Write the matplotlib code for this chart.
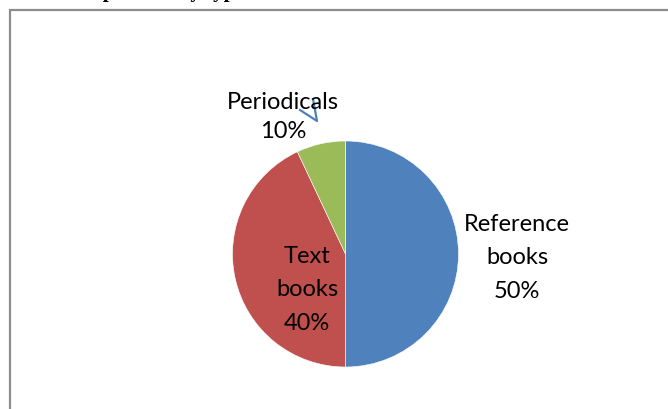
import matplotlib.pyplot as plt
from matplotlib.patches import Rectangle

# pie data (slice sizes, labels as printed)
categories = ['Reference\nbooks', 'Text\nbooks', 'Periodicals']
shares = [50, 43, 7]
pct_text = ['50%', '40%', '10%']
colors = ['#4F81BD', '#C0504D', '#9BBB59']

W, H = 668, 410
fig = plt.figure(figsize=(W / 100, H / 100), dpi=100)
ax = fig.add_axes([0, 0, 1, 1])

ax.pie(shares, colors=colors, startangle=90, counterclock=False,
       center=(345.5, H - 255), radius=113,
       wedgeprops=dict(edgecolor='white', linewidth=0.4))
ax.set_xlim(0, W)
ax.set_ylim(0, H)
ax.set_aspect('equal')
ax.axis('off')

# chart frame (right and bottom edges run off the picture)
ax.add_patch(Rectangle((10, -20), 700, H - 11 + 20, fill=False,
                       edgecolor='#8c8c8c', lw=1.6, clip_on=False))

# clipped heading above the frame
ax.text(60, H + 3, 'Composition by type of books', fontsize=15,
        family='Liberation Serif', weight='bold', va='baseline', clip_on=False)

font = dict(family=['Lato', 'DejaVu Sans'], fontsize=17, color='black',
            ha='center', va='center', linespacing=1.72)
ax.text(517, H - 258, categories[0] + '\n' + pct_text[0], **font)
ax.text(307, H - 290, categories[1] + '\n' + pct_text[1], **font)
ax.text(283, H - 117, categories[2] + '\n' + pct_text[2],
        **{**font, 'linespacing': 1.5})

# leader line for the small slice
ax.plot([300, 317, 313], [H - 111, H - 122, H - 100], color='#4F81BD', lw=1.6)

fig.savefig('out.png', dpi=100)
